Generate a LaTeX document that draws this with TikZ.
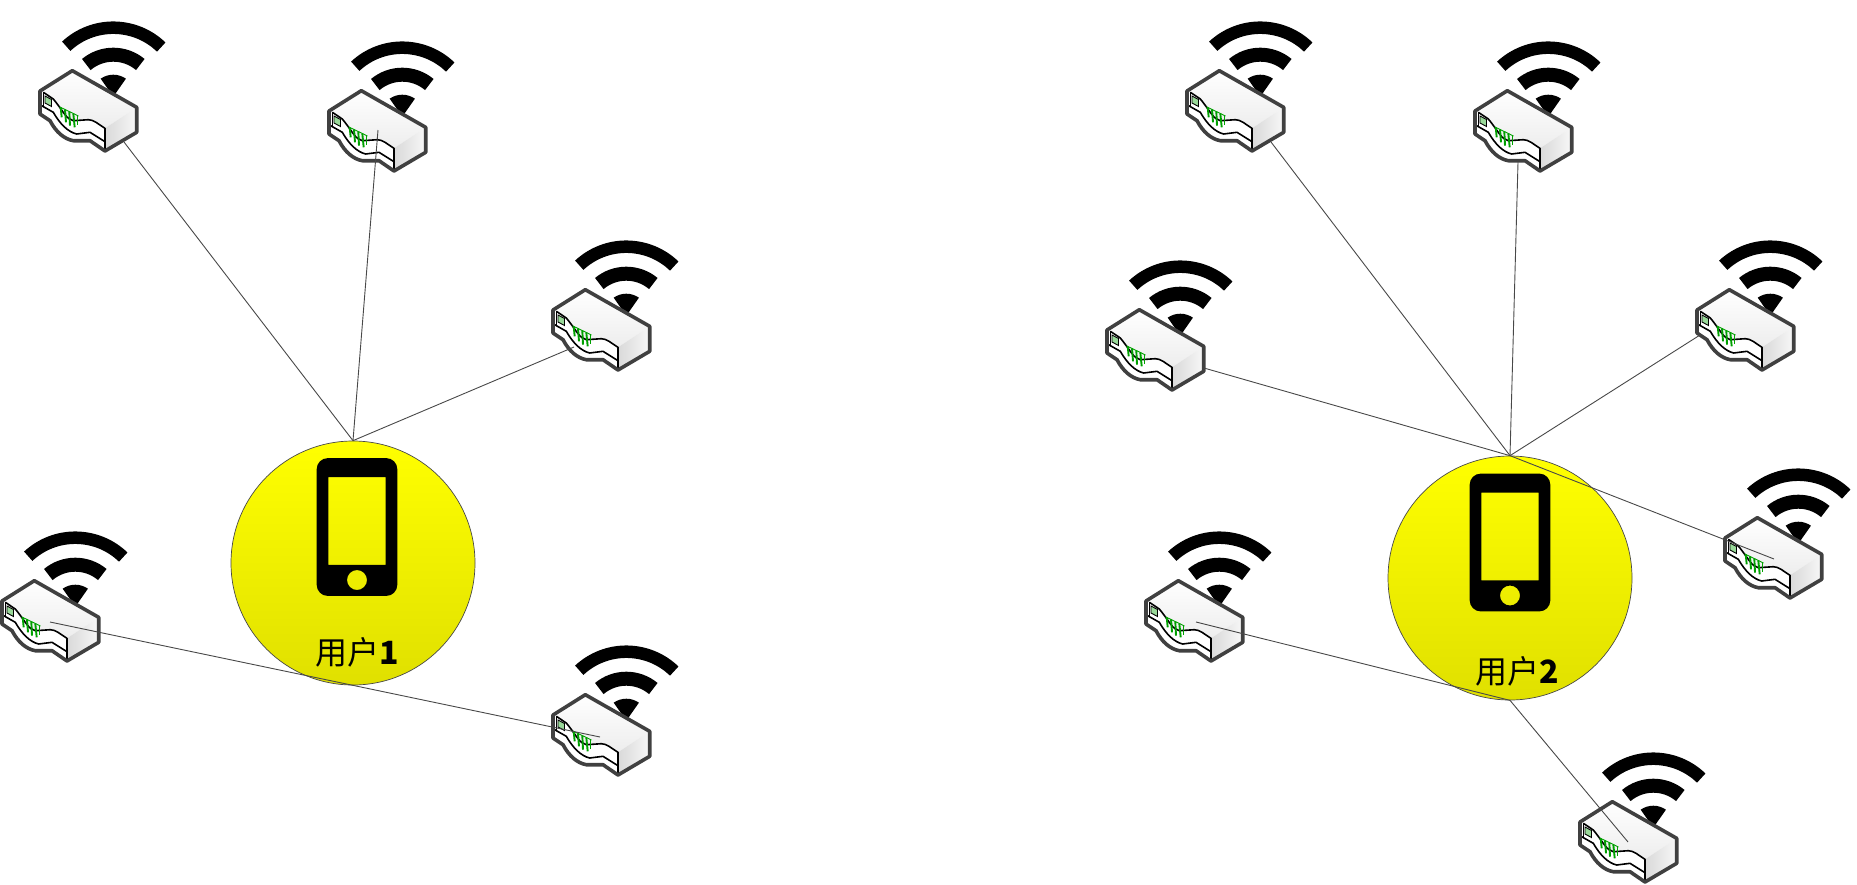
\documentclass[tikz,border=0pt]{standalone}
\usepackage{fontspec}
\setmainfont{Carlito}
\newfontfamily\cjkfont{Noto Sans CJK SC}
\definecolor{routeredge}{HTML}{404040}
\definecolor{portgreen}{HTML}{00A000}
\definecolor{linkgray}{HTML}{484848}
\definecolor{circbottom}{HTML}{E0E000}
\tikzset{
  userdisc/.style={circle, draw=linkgray, line width=0.7pt, minimum size=244pt, inner sep=0pt,
    top color=yellow, bottom color=circbottom},
  userlabel/.style={inner sep=0pt, font=\fontsize{32}{38}\selectfont},
  linkline/.style={draw=linkgray, line width=0.9pt},
  wifibar/.style={black, line cap=butt},
  frontline/.style={black, line width=1.6pt, line join=round},
  portbar/.style={portgreen, line width=1.9pt},
  router/.pic={
    % Wifi fan
    \draw[wifibar, line width=12.5pt] (23.3,-13.3) ++(46:69pt) arc[start angle=46, end angle=133, radius=69pt];
    \draw[wifibar, line width=14pt] (23.3,-13.3) ++(50:42pt) arc[start angle=50, end angle=130, radius=42pt];
    \fill[black] (23.3,-13.3) -- ++(55:22pt) arc[start angle=55, end angle=125, radius=22pt] -- cycle;
    % Body
    \fill[white] (-17.7,-39.3) -- (-50,-19) -- (-50,4) -- (-40,10.7)
      .. controls (-34,22) and (-26,29) .. (-16.7,30.7) -- (0,30.7) -- (15,41) -- (46.7,22.3) -- (46.7,-2.7) -- cycle;
    % Top face
    \shade[top color=white, bottom color=white!93!black] (-17.7,-39.3) -- (46.7,-2.7) -- (15,18.3)
      .. controls (8,14) and (4,9.7) .. (-1.7,9.7) -- (-16.7,10.7)
      .. controls (-24,9) and (-26,2) .. (-36.7,-11) -- (-46.7,-17.7) -- cycle;
    % Right face
    \shade[left color=white!85!black, right color=white!97!black] (15,18.3) -- (46.7,-2.7) -- (46.7,22.3) -- (15,41) -- cycle;
    % Front face
    \draw[frontline] (-46.7,-17.7) -- (-36.7,-11) .. controls (-26,2) and (-24,9) .. (-16.7,10.7)
      -- (-1.7,9.7) .. controls (4,9.7) and (8,14) .. (15,18.3) -- (15,41);
    \draw[frontline] (-48.3,-4.3) -- (-36.7,2.3) .. controls (-30,14) and (-22,22) .. (-13.3,24)
      -- (0,22.3) -- (15,31.7);
    \draw[frontline] (-46.7,-17.7) -- (-46.7,-4.3);
    % Lamp
    \draw[black, fill=portgreen!40, line width=0.9pt] (-45,-14) -- (-38.5,-10.5) -- (-38.5,-3.5) -- (-45,-7) -- cycle;
    % Ports
    \draw[portgreen, line width=0.9pt] (-30.5,-3.2) -- (-11.5,6);
    \draw[portbar] (-29.3,-2.7) -- (-28.3,7.3);
    \draw[portbar] (-25,-0.7) -- (-24,12.3);
    \draw[portbar] (-20.7,1.5) -- (-20,15.7);
    \draw[portbar] (-16.7,3.5) -- (-15.3,17.3);
    \draw[portbar] (-12.5,5.5) -- (-12.5,15);
    % Outline
    \draw[routeredge, line width=3.6pt, line join=round] (-17.7,-39.3) -- (-50,-19) -- (-50,4) -- (-40,10.7)
      .. controls (-34,22) and (-26,29) .. (-16.7,30.7) -- (0,30.7) -- (15,41) -- (46.7,22.3) -- (46.7,-2.7) -- cycle;
  },
  phone/.pic={
    \fill[black, even odd rule, rounded corners=11pt] (-40.3,-68.9) rectangle (40.3,68.9)
      [sharp corners] (-28.7,-50) rectangle (28.7,37.8) (0,53) circle (10pt);
  }
}

\begin{document}
\begin{tikzpicture}[x=1pt,y=-1pt]
\useasboundingbox (0,0) rectangle (1857,884);

%%% Panel 1: first user
% Routers
\pic at (90,110) {router};
\pic at (379,130) {router};
\pic at (603,329) {router};
\pic at (52,620) {router};
\pic at (603,734) {router};

% User
\node[userdisc] (user1) at (353,563) {};
\pic at (357,527) {phone};
\node[userlabel] (label1) at (357,652) {\cjkfont 用户{\bfseries 1}};

% Link ends
\coordinate (end1a) at (124,142);
\coordinate (end1b) at (378,130);
\coordinate (end1c) at (574,347);
\coordinate (end1d) at (50,622);
\coordinate (end1e) at (600,737);

% Links
\draw[linkline] (user1.north) -- (end1a);
\draw[linkline] (user1.north) -- (end1b);
\draw[linkline] (user1.north) -- (end1c);
\draw[linkline] (user1.south) -- (end1d);
\draw[linkline] (user1.south) -- (end1e);

%%% Panel 2: second user
% Routers
\pic at (1237,110) {router};
\pic at (1525,130) {router};
\pic at (1747,329) {router};
\pic at (1157,349) {router};
\pic at (1775,557) {router};
\pic at (1196,620) {router};
\pic at (1630,841) {router};

% User
\node[userdisc] (user2) at (1510,578) {};
\pic at (1510,542.5) {phone};
\node[userlabel] (label2) at (1517,671.5) {\cjkfont 用户{\bfseries 2}};

% Link ends
\coordinate (end2a) at (1271,142);
\coordinate (end2b) at (1518,162);
\coordinate (end2c) at (1700,335);
\coordinate (end2d) at (1204,368);
\coordinate (end2e) at (1774,559);
\coordinate (end2f) at (1196,622);
\coordinate (end2g) at (1628,842);

% Links
\draw[linkline] (user2.north) -- (end2a);
\draw[linkline] (user2.north) -- (end2b);
\draw[linkline] (user2.north) -- (end2c);
\draw[linkline] (user2.north) -- (end2d);
\draw[linkline] (user2.north) -- (end2e);
\draw[linkline] (user2.south) -- (end2f);
\draw[linkline] (user2.south) -- (end2g);

\end{tikzpicture}
\end{document}
